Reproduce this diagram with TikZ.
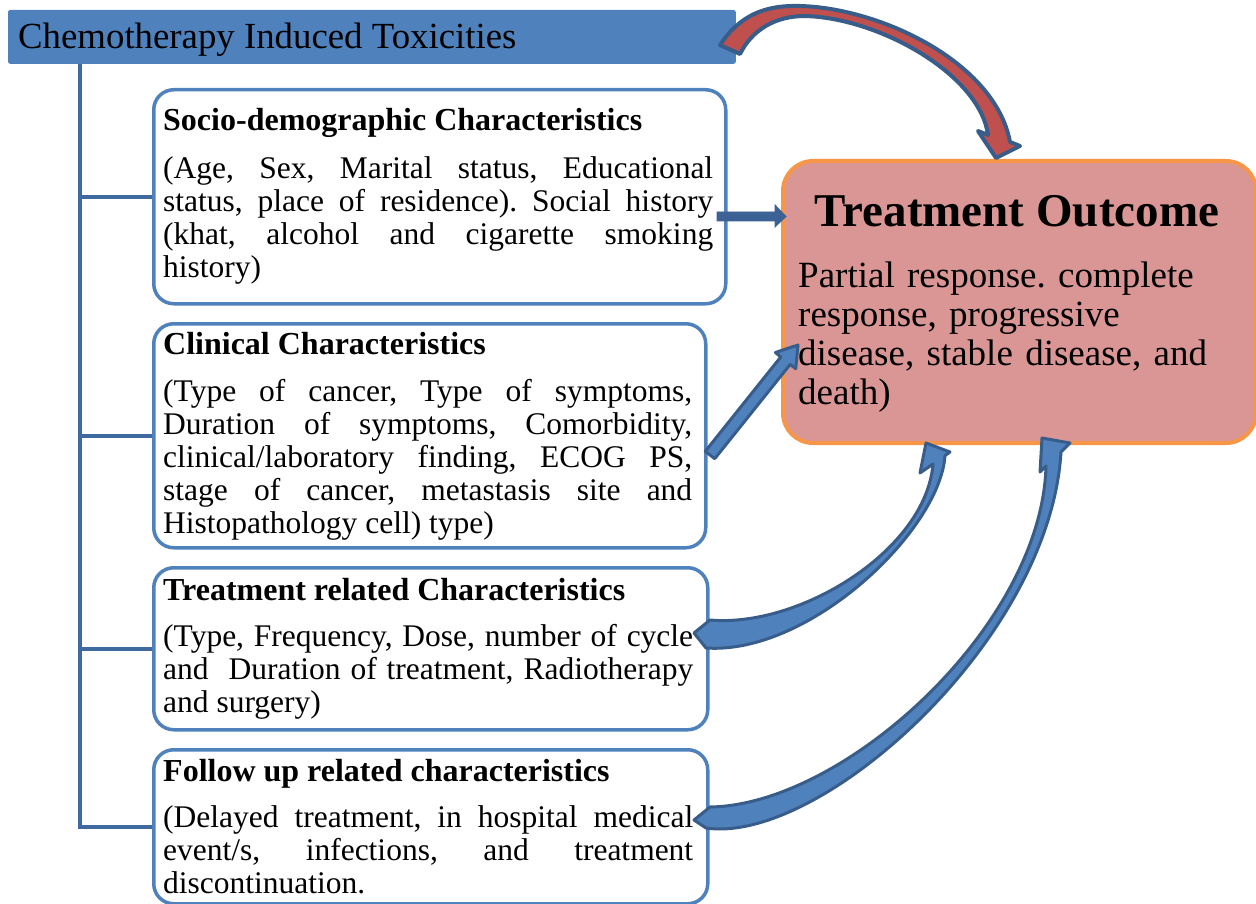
\documentclass[tikz,border=0pt]{standalone}
\usepackage{fontspec}
\setmainfont{Liberation Serif}
\usetikzlibrary{calc}
\frenchspacing

\definecolor{accent}{HTML}{4F81BD}
\definecolor{edgeblue}{HTML}{385D8A}
\definecolor{deepblue}{HTML}{3B6195}
\definecolor{trunkblue}{HTML}{3F6AA0}
\definecolor{outfill}{HTML}{D99694}
\definecolor{outedge}{HTML}{F79646}
\definecolor{redarc}{HTML}{C0504D}

\tikzset{
  factorbox/.style={draw=accent, line width=3.5pt, rounded corners=20pt, fill=white,
    anchor=north west, inner sep=0pt},
  outcomebox/.style={draw=outedge, fill=outfill, line width=4pt, rounded corners=30pt,
    anchor=north west, inner sep=0pt},
  titlebar/.style={fill=accent, draw=accent, line width=0.8pt, rounded corners=2pt,
    anchor=north west, inner sep=0pt},
  bodytext/.style={anchor=north west, inner sep=0pt, text width=#1, align=justify,
    font=\fontsize{31.5}{33}\selectfont},
  trunk/.style={draw=trunkblue, line width=4pt},
  blockarrow/.style={fill=accent, draw=edgeblue, line width=3pt, line join=round},
  darkarrow/.style={fill=deepblue, draw=deepblue, line width=0.8pt, line join=miter},
  redarrow/.style={fill=redarc, draw=edgeblue, line width=4pt, line join=round},
}
\newcommand{\boxhead}[1]{{\fontsize{32}{33}\selectfont\bfseries #1}}

\begin{document}
\begin{tikzpicture}[x=1pt,y=-1pt]
\useasboundingbox (0,0) rectangle (1256,904);

% heading bar
\node[titlebar, minimum width=727pt, minimum height=53pt] (title) at (8,10) {};
\node[anchor=base west, inner sep=0pt, font=\fontsize{36.8}{40}\selectfont] (titletext)
  at (18,49) {Chemotherapy Induced Toxicities};

% factor boxes
\node[factorbox, minimum width=572pt, minimum height=214pt] (box1) at (152,88) {};
\node[factorbox, minimum width=552pt, minimum height=224pt] (box2) at (152,322) {};
\node[factorbox, minimum width=554pt, minimum height=162pt] (box3) at (152,566) {};
\node[factorbox, minimum width=554pt, minimum height=154pt] (box4) at (152,748) {};

\node[bodytext=550pt] (text1) at (163,107) {\strut\boxhead{Socio-demographic Characteristics}\par\vspace{15pt}
(Age, Sex, Marital status, Educational\linebreak
status, place of residence). Social history\linebreak
(khat, alcohol and cigarette smoking\linebreak
history)};

\node[bodytext=529pt] (text2) at (163,331) {\strut\boxhead{Clinical Characteristics}\par\vspace{14pt}
(Type of cancer, Type of symptoms,\linebreak
Duration of symptoms, Comorbidity,\linebreak
clinical/laboratory finding, ECOG PS,\linebreak
stage of cancer, metastasis site and\linebreak
Histopathology cell) type)};

\node[bodytext=530pt] (text3) at (163,577) {\strut\boxhead{Treatment related Characteristics}\par\vspace{13pt}
(Type, Frequency, Dose, number of cycle\linebreak
and~ Duration of treatment, Radiotherapy\linebreak
and surgery)};

\node[bodytext=530pt] (text4) at (163,758) {\strut\boxhead{Follow up related characteristics}\par\vspace{13pt}
(Delayed treatment, in hospital medical\linebreak
event/s, infections, and treatment\linebreak
discontinuation.};

% outcome box
\node[outcomebox, minimum width=473pt, minimum height=282pt] (outcome) at (781,159) {};
\node[anchor=base, inner sep=0pt, font=\fontsize{47}{50}\selectfont\bfseries] (outtitle)
  at (1017,227) {Treatment Outcome};
\node[anchor=north west, inner sep=0pt, text width=450pt, align=left,
  font=\fontsize{37}{39}\selectfont] (outtext) at (798,260)
  {\strut Partial response. complete\\ response, progressive\\ disease, stable disease, and\\ death)};

% trunk line joining the heading bar to every factor box
\coordinate (tr) at (80,0);
\draw[trunk] (tr |- title.south) -- (tr |- box4.west) -- (box4.west);
\draw[trunk] (tr |- box1.west) -- (box1.west);
\draw[trunk] (tr |- box2.west) -- (box2.west);
\draw[trunk] (tr |- box3.west) -- (box3.west);

% socio-demographic -> outcome
\filldraw[darkarrow] (717,212) -- (775,212) -- (775,205) -- (786,216.5) -- (775,227)
  -- (775,221) -- (717,221) -- cycle;

% clinical -> outcome
\filldraw[blockarrow] (705.3,451.3) -- (780.8,356.9) -- (775.4,352.5) -- (798,345)
  -- (795.7,368.7) -- (790.2,364.4) -- (714.7,458.7) -- cycle;

% toxicities -> outcome (curved)
\filldraw[redarrow] (720,45) .. controls (740,15) and (765,5) .. (800,6)
  .. controls (880,8) and (995,62) .. (1010,142)
  -- (1020,146) -- (996,158) -- (978,131) -- (988,135)
  .. controls (980,75) and (880,18) .. (805,16)
  .. controls (775,16) and (752,30) .. (740,54) -- cycle;

% treatment related -> outcome (curved)
\filldraw[blockarrow] (710,620) .. controls (800,628) and (926,550) .. (933,464)
  -- (920,473) -- (926,443) -- (950,452) -- (945,455.6)
  .. controls (940,530) and (810,655) .. (706,648)
  -- (694,633) -- cycle;

% follow up -> outcome (curved)
\filldraw[blockarrow] (710,807) .. controls (845,805) and (1042,625) .. (1046,466)
  -- (1040,472) -- (1042,438) -- (1070,443) -- (1061,452)
  .. controls (1050,640) and (820,845) .. (706,828)
  -- (694,820) -- cycle;
\end{tikzpicture}
\end{document}
